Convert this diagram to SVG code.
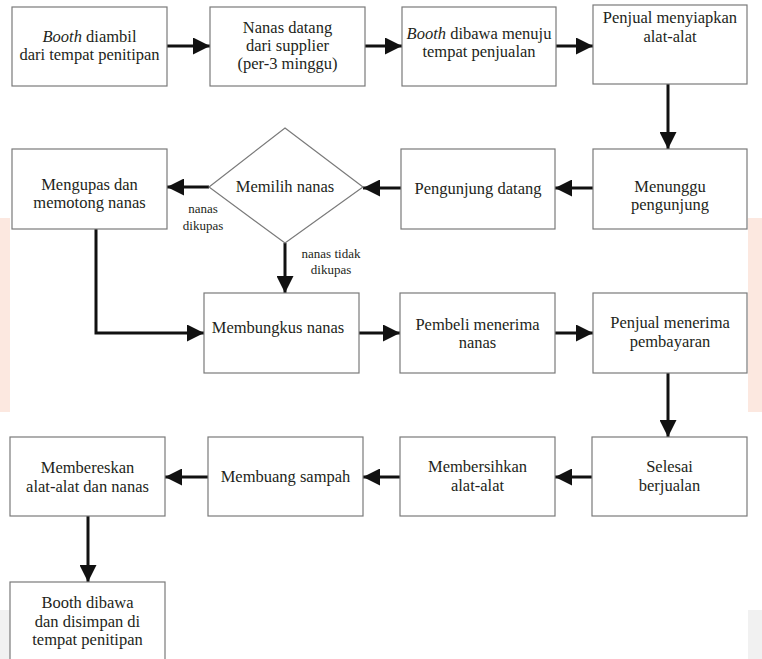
<svg xmlns="http://www.w3.org/2000/svg" width="762" height="659" viewBox="0 0 762 659">
<defs>
<style>
.bx{fill:#fff;stroke:#7a7a7a;stroke-width:1.2}
.t{font-family:'Liberation Serif','DejaVu Serif',serif;font-size:16.5px;fill:#231f20;text-anchor:middle}
.s{font-family:'Liberation Serif','DejaVu Serif',serif;font-size:13px;fill:#231f20;text-anchor:middle}
.c{fill:none;stroke:#111;stroke-width:3;marker-end:url(#ah)}
</style>
<marker id="ah" markerUnits="userSpaceOnUse" markerWidth="17" markerHeight="17" refX="16" refY="8" orient="auto" viewBox="0 0 16 16">
<path d="M0,0 L16,8 L0,16 z" fill="#111"/>
</marker>
</defs>
<rect width="762" height="659" fill="#fff"/>
<g id="background">
<rect x="0" y="218" width="10" height="194" fill="#fce8e0"/>
<rect x="748" y="218" width="14" height="194" fill="#fce8e0"/>
<rect x="0" y="610" width="10" height="49" fill="#f1f1f1"/>
<rect x="748" y="610" width="14" height="49" fill="#f1f1f1"/>
</g>
<g id="connectors">
<path class="c" d="M167,46 L210,46"/>
<path class="c" d="M365,46 L402,46"/>
<path class="c" d="M556,46 L593,46"/>
<path class="c" d="M668,84 L668,149"/>
<path class="c" d="M593,188 L555,188"/>
<path class="c" d="M401,188 L363,188"/>
<path class="c" d="M209,187 L167,187"/>
<path class="c" d="M285,243 L285,293"/>
<path class="c" d="M96,229 L96,333 L204,333"/>
<path class="c" d="M359,333 L400,333"/>
<path class="c" d="M555,333 L593,333"/>
<path class="c" d="M668,373 L668,437"/>
<path class="c" d="M592,477 L555,477"/>
<path class="c" d="M400,477 L363,477"/>
<path class="c" d="M208,477 L165,477"/>
<path class="c" d="M88,516 L88,582"/>
<text class="s" x="203" y="213">nanas</text>
<text class="s" x="203" y="230">dikupas</text>
<text class="s" x="331" y="258">nanas tidak</text>
<text class="s" x="331" y="274">dikupas</text>
</g>
<g id="n1"><rect class="bx" x="12" y="7" width="155" height="79"/>
<text class="t" x="89.5" y="42"><tspan font-style="italic">Booth</tspan> diambil</text>
<text class="t" x="89.5" y="60">dari tempat penitipan</text></g>
<g id="n2"><rect class="bx" x="210" y="7" width="155" height="79"/>
<text class="t" x="287.5" y="33">Nanas datang</text>
<text class="t" x="287.5" y="51">dari supplier</text>
<text class="t" x="287.5" y="69">(per-3 minggu)</text></g>
<g id="n3"><rect class="bx" x="402" y="7" width="154" height="79"/>
<text class="t" x="479" y="39"><tspan font-style="italic">Booth</tspan> dibawa menuju</text>
<text class="t" x="479" y="57">tempat penjualan</text></g>
<g id="n4"><rect class="bx" x="593" y="5" width="154" height="79"/>
<text class="t" x="670" y="23">Penjual menyiapkan</text>
<text class="t" x="670" y="42">alat-alat</text></g>
<g id="n5"><rect class="bx" x="593" y="149" width="154" height="80"/>
<text class="t" x="670" y="192">Menunggu</text>
<text class="t" x="670" y="210">pengunjung</text></g>
<g id="n6"><rect class="bx" x="401" y="149" width="154" height="80"/>
<text class="t" x="478" y="194">Pengunjung datang</text></g>
<g id="n7"><path class="bx" d="M285,128 L363,187 L285,243 L209,187 z"/>
<text class="t" x="285" y="192">Memilih nanas</text></g>
<g id="n8"><rect class="bx" x="12" y="149" width="155" height="80"/>
<text class="t" x="89.5" y="190">Mengupas dan</text>
<text class="t" x="89.5" y="208">memotong nanas</text></g>
<g id="n9"><rect class="bx" x="204" y="293" width="155" height="80"/>
<text class="t" x="278" y="333">Membungkus nanas</text></g>
<g id="n10"><rect class="bx" x="400" y="293" width="155" height="80"/>
<text class="t" x="477.5" y="330">Pembeli menerima</text>
<text class="t" x="477.5" y="348">nanas</text></g>
<g id="n11"><rect class="bx" x="593" y="293" width="154" height="80"/>
<text class="t" x="670" y="328">Penjual menerima</text>
<text class="t" x="670" y="347">pembayaran</text></g>
<g id="n12"><rect class="bx" x="592" y="437" width="155" height="79"/>
<text class="t" x="669.5" y="472">Selesai</text>
<text class="t" x="669.5" y="491">berjualan</text></g>
<g id="n13"><rect class="bx" x="400" y="437" width="155" height="79"/>
<text class="t" x="477.5" y="472">Membersihkan</text>
<text class="t" x="477.5" y="491">alat-alat</text></g>
<g id="n14"><rect class="bx" x="208" y="437" width="155" height="79"/>
<text class="t" x="285.5" y="482">Membuang sampah</text></g>
<g id="n15"><rect class="bx" x="10" y="437" width="155" height="79"/>
<text class="t" x="87.5" y="473">Membereskan</text>
<text class="t" x="87.5" y="492">alat-alat dan nanas</text></g>
<g id="n16"><rect class="bx" x="10" y="582" width="155" height="100"/>
<text class="t" x="87.5" y="608">Booth dibawa</text>
<text class="t" x="87.5" y="627">dan disimpan di</text>
<text class="t" x="87.5" y="645">tempat penitipan</text></g>
</svg>
